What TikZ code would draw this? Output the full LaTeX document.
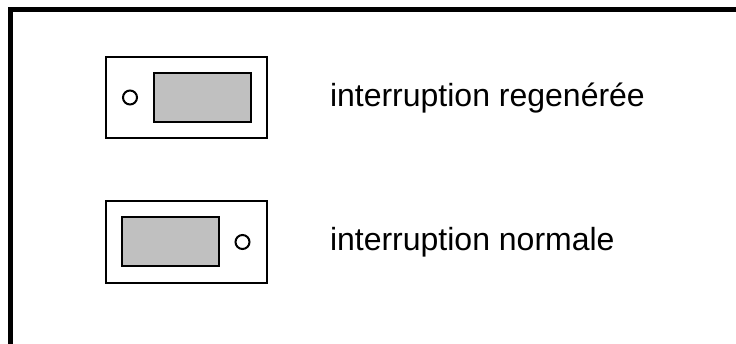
\documentclass[tikz,border=0pt]{standalone}
\usepackage{fontspec}
\setmainfont{Liberation Sans}
\begin{document}
\begin{tikzpicture}[x=1pt,y=-1pt,
  casing/.style={draw=black, line width=2pt, fill=white, rectangle,
    minimum width=161pt, minimum height=81pt, inner sep=0pt, outer sep=0pt},
  window/.style={draw=black, line width=2.5pt, fill=silver, rectangle,
    minimum width=97pt, minimum height=49pt, inner sep=0pt, outer sep=0pt},
  lamp/.style={draw=black, line width=2pt, fill=white, circle,
    minimum size=14pt, inner sep=0pt, outer sep=0pt},
  caption/.style={anchor=base west, inner sep=0pt, outer sep=0pt,
    font=\fontsize{32}{38}\selectfont}]
  \definecolor{silver}{RGB}{192,192,192}
  \useasboundingbox (0,0) rectangle (736,343);
  % open frame: left and top edges only
  \draw[line width=5pt, line join=miter] (10.5,360) -- (10.5,9.5) -- (745,9.5);
  % regenerated interrupt: lamp left of the window
  \node[casing] (caseA) at (186.5,97.5) {};
  \node[window] (winA) at (202.5,97.5) {};
  \node[lamp] (lampA) at (130,97.5) {};
  \node[caption] (capA) at (330,106) {interruption regenérée};
  % normal interrupt: lamp right of the window
  \node[casing, minimum height=82pt] (caseB) at (186.5,242) {};
  \node[window] (winB) at (170.5,241.5) {};
  \node[lamp] (lampB) at (242.5,242) {};
  \node[caption] (capB) at (330,250) {interruption normale};
\end{tikzpicture}
\end{document}
